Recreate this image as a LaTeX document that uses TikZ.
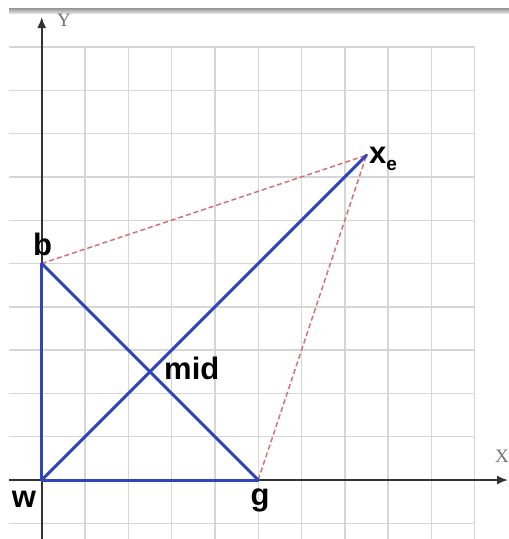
\documentclass[tikz,border=0pt]{standalone}
\usepackage{fontspec}
\setmainfont{Liberation Sans}
\newfontfamily\axfont{Liberation Serif}
\usetikzlibrary{arrows.meta}
\definecolor{bl}{RGB}{48,68,188}
\definecolor{rd}{RGB}{215,110,125}
\definecolor{gridc}{RGB}{214,214,214}
\definecolor{axc}{RGB}{50,50,50}
\tikzset{
  gridline/.style={draw=gridc, line width=1.4pt},
  axisline/.style={draw=axc, line width=1.8pt, -{Latex[length=11pt,width=9pt]}},
  seg/.style={draw=bl, line width=3pt, line cap=round},
  dashseg/.style={draw=rd, line width=1.5pt, dash pattern=on 5pt off 3pt},
  lbl/.style={font=\fontsize{31}{31}\selectfont\bfseries, inner sep=0pt, text=black},
  axlbl/.style={font=\fontsize{19}{19}\selectfont\axfont, inner sep=0pt, text=gray!90!black},
}
\begin{document}
\begin{tikzpicture}[x=1pt,y=-1pt]
\useasboundingbox (0,0) rectangle (509,539);
\fill[white] (0,0) rectangle (509,539);
% top bar
\shade[top color=gray!85, bottom color=gray!25] (9,8) rectangle (509,13);
% grid
\foreach \k in {0,...,10} \draw[gridline] (41.7+\k*43.3,47) -- (41.7+\k*43.3,539);
\foreach \k in {-1,...,10} \draw[gridline] (9,480-\k*43.3) -- (474.7,480-\k*43.3);
% axes
\coordinate (ybot) at (41.7,539);
\coordinate (ytop) at (41.7,17);
\coordinate (xleft) at (9,480);
\coordinate (xright) at (508,480);
\draw[axisline] (ybot) -- (ytop);
\draw[axisline] (xleft) -- (xright);
\node[axlbl] (ylab) at (64,20) {Y};
\node[axlbl] (xlab) at (502,456) {X};
% points
\coordinate (w) at (41.7,480);
\coordinate (g) at (258.2,480);
\coordinate (b) at (41.7,263.5);
\coordinate (xe) at (366.5,155.25);
\coordinate (mid) at (150.1,371.75);
% dashed
\draw[dashseg] (b) -- (xe);
\draw[dashseg] (g) -- (xe);
% blue
\draw[seg] (w) -- (b);
\draw[seg] (w) -- (g);
\draw[seg] (b) -- (g);
\draw[seg] (w) -- (xe);
% labels
\node[lbl, anchor=base] (wl) at (24,507) {w};
\node[lbl, anchor=base] (gl) at (260,505) {g};
\node[lbl, anchor=base] (bl) at (42.5,255) {b};
\node[lbl, anchor=base west] (midl) at (164,379) {mid};
\node[lbl, anchor=base west] (xel) at (369,163) {x\raisebox{-7pt}{\fontsize{19}{19}\selectfont e}};
\end{tikzpicture}
\end{document}
